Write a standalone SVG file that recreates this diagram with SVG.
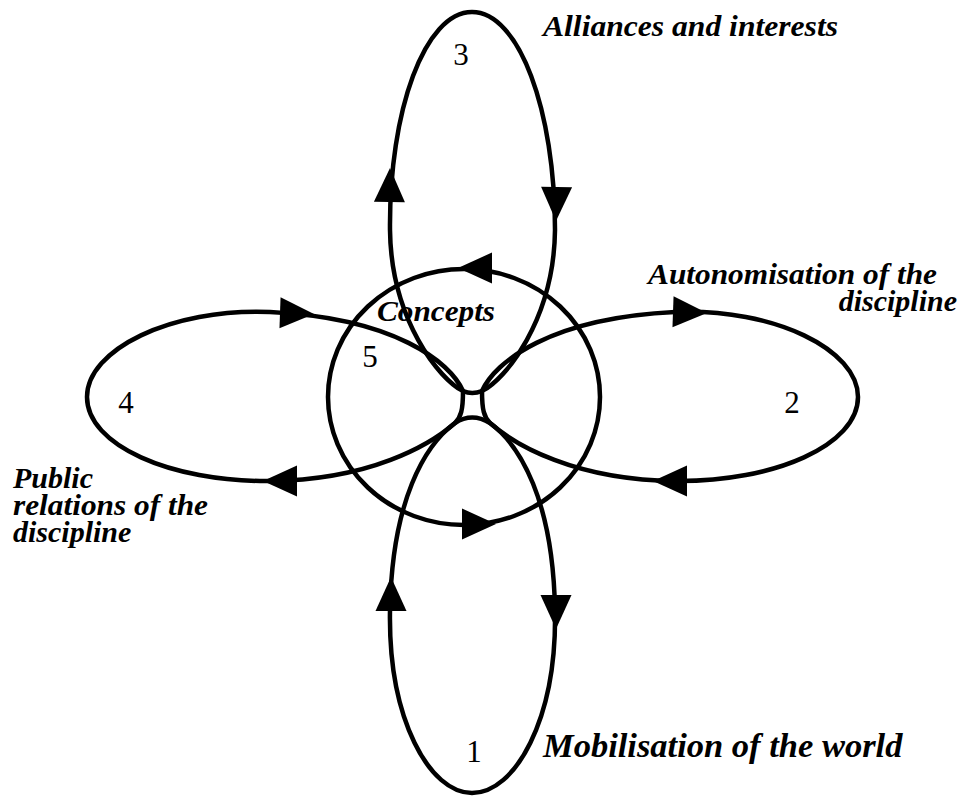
<svg xmlns="http://www.w3.org/2000/svg" xmlns:xlink="http://www.w3.org/1999/xlink" width="962" height="798" viewBox="0 0 962 798">
<style>
.ln{fill:none;stroke:#000;stroke-width:4.5;stroke-linejoin:round}
.ah{fill:#000}
.num{font-family:"Liberation Serif","Times New Roman",serif;font-size:31px;fill:#000}
.lab{font-family:"Liberation Serif","Times New Roman",serif;font-size:30px;font-style:italic;font-weight:bold;fill:#000}
</style>
<defs>
<path id="ah" d="M0,0 L-34,-15.5 L-34,15.5 Z"/>
</defs>
<rect width="962" height="798" fill="#fff"/>
<g id="connectors">
<g id="loop3">
<path class="ln" d="M463,391 C440,380 391,320 390,230 C389,110 425,12 472,12 C519,12 555,110 555,230 C554,320 505,380 482,391 Q472,395 463,391 Z"/>
<use xlink:href="#ah" class="ah" transform="translate(390,168) rotate(-89)"/>
<use xlink:href="#ah" class="ah" transform="translate(556,221) rotate(91)"/>
</g>
<g id="loop4">
<path class="ln" d="M463,391 C450,362 395,318 270,312 C170,308 87,350 87,397 C87,445 170,482 270,481 C370,480 430,445 455,423 C461,417 463,410 463,391 Z"/>
<use xlink:href="#ah" class="ah" transform="translate(314,314) rotate(2)"/>
<use xlink:href="#ah" class="ah" transform="translate(263,481) rotate(180)"/>
</g>
<g id="loop2">
<path class="ln" d="M482,391 C495,362 550,318 675,312 C775,308 858,350 858,397 C858,445 775,482 675,481 C575,480 515,445 490,423 C484,417 482,410 482,391 Z"/>
<use xlink:href="#ah" class="ah" transform="translate(707,313) rotate(2)"/>
<use xlink:href="#ah" class="ah" transform="translate(653,481) rotate(180)"/>
</g>
<g id="loop1">
<path class="ln" d="M455,423 C425,445 392,500 390,610 C388,720 430,793 472,793 C515,793 557,720 555,610 C553,500 520,445 490,423 Q472,412 455,423 Z"/>
<use xlink:href="#ah" class="ah" transform="translate(391,577) rotate(-90)"/>
<use xlink:href="#ah" class="ah" transform="translate(556,629) rotate(90)"/>
</g>
<g id="circle5">
<ellipse class="ln" cx="464" cy="397" rx="136" ry="128"/>
<use xlink:href="#ah" class="ah" transform="translate(458,268) rotate(180)"/>
<use xlink:href="#ah" class="ah" transform="translate(496,524)"/>
</g>
</g>
<g id="node1">
<text class="num" x="474" y="762" text-anchor="middle">1</text>
<text class="lab" x="543" y="757" style="font-size:34.5px">Mobilisation of the world</text>
</g>
<g id="node2">
<text class="num" x="792" y="413" text-anchor="middle">2</text>
<text class="lab" x="648" y="284" textLength="289" lengthAdjust="spacingAndGlyphs">Autonomisation of the</text>
<text class="lab" x="957" y="311" text-anchor="end">discipline</text>
</g>
<g id="node3">
<text class="num" x="461" y="65" text-anchor="middle">3</text>
<text class="lab" x="543" y="36" textLength="295" lengthAdjust="spacingAndGlyphs">Alliances and interests</text>
</g>
<g id="node4">
<text class="num" x="126" y="413" text-anchor="middle">4</text>
<text class="lab" x="13" y="488">Public</text>
<text class="lab" x="13" y="515" textLength="195" lengthAdjust="spacingAndGlyphs">relations of the</text>
<text class="lab" x="13" y="542">discipline</text>
</g>
<g id="node5">
<text class="num" x="370" y="367" text-anchor="middle">5</text>
<text class="lab" x="377" y="321" textLength="118" lengthAdjust="spacingAndGlyphs">Concepts</text>
</g>
</svg>
